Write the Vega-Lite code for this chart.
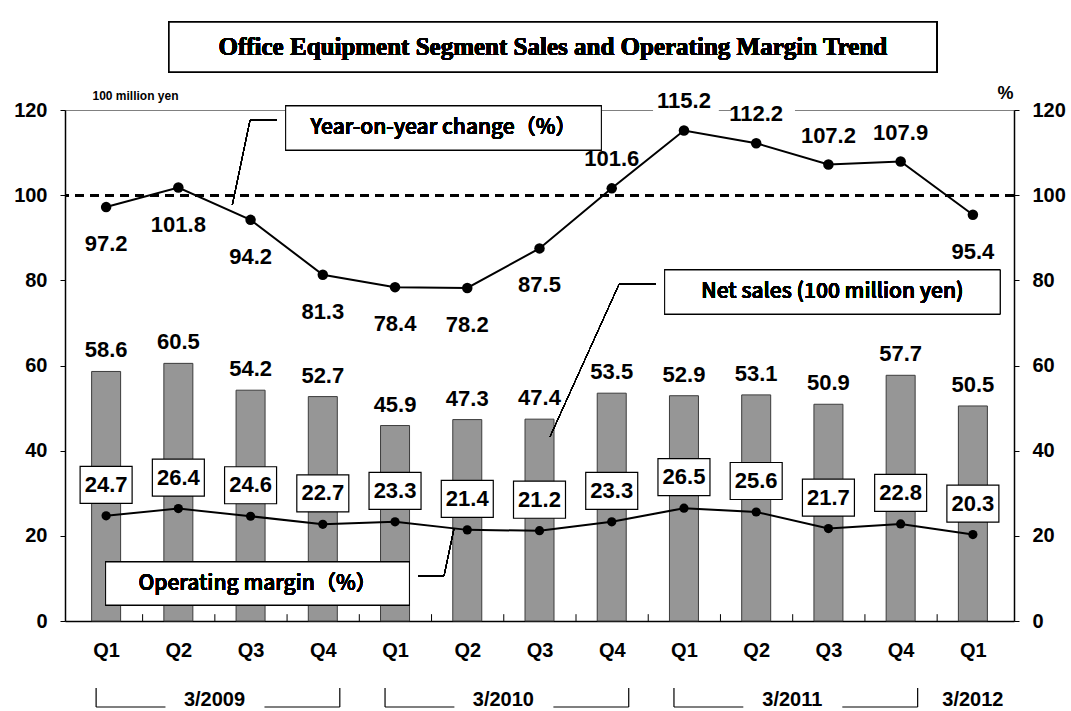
{
  "$schema": "https://vega.github.io/schema/vega-lite/v6.json",
  "width": 949,
  "height": 511,
  "autosize": {"type": "none"},
  "padding": {"left": 65, "top": 110, "right": 57, "bottom": 90},
  "background": "white",
  "config": {"view": {"stroke": "#808080", "strokeWidth": 1}, "font": "Liberation Sans"},
  "datasets": {
    "q": [
      {"i": 1, "fy": "3/2009", "sales": 58.6, "yoy": 97.2, "margin": 24.7},
      {"i": 2, "fy": "3/2009", "sales": 60.5, "yoy": 101.8, "margin": 26.4},
      {"i": 3, "fy": "3/2009", "sales": 54.2, "yoy": 94.2, "margin": 24.6},
      {"i": 4, "fy": "3/2009", "sales": 52.7, "yoy": 81.3, "margin": 22.7},
      {"i": 5, "fy": "3/2010", "sales": 45.9, "yoy": 78.4, "margin": 23.3},
      {"i": 6, "fy": "3/2010", "sales": 47.3, "yoy": 78.2, "margin": 21.4},
      {"i": 7, "fy": "3/2010", "sales": 47.4, "yoy": 87.5, "margin": 21.2},
      {"i": 8, "fy": "3/2010", "sales": 53.5, "yoy": 101.6, "margin": 23.3},
      {"i": 9, "fy": "3/2011", "sales": 52.9, "yoy": 115.2, "margin": 26.5},
      {"i": 10, "fy": "3/2011", "sales": 53.1, "yoy": 112.2, "margin": 25.6},
      {"i": 11, "fy": "3/2011", "sales": 50.9, "yoy": 107.2, "margin": 21.7},
      {"i": 12, "fy": "3/2011", "sales": 57.7, "yoy": 107.9, "margin": 22.8},
      {"i": 13, "fy": "3/2012", "sales": 50.5, "yoy": 95.4, "margin": 20.3}
    ]
  },
  "data": {"name": "q"},
  "resolve": {"axis": {"y": "independent"}},
  "layer": [
    {
      "mark": {"type": "bar", "size": 29, "fill": "#969696", "stroke": "#3c3c3c", "strokeWidth": 1},
      "encoding": {
        "x": {
          "field": "i", "type": "quantitative",
          "scale": {"domain": [0.5, 13.5], "nice": false, "zero": false},
          "axis": {
            "title": null, "orient": "bottom", "values": [1,2,3,4,5,6,7,8,9,10,11,12,13],
            "labelExpr": "'Q' + ((datum.value - 1) % 4 + 1)",
            "ticks": false, "grid": false, "domainColor": "black", "domainWidth": 1.5,
            "labelFont": "Liberation Sans", "labelFontSize": 20, "labelFontWeight": "bold",
            "labelColor": "black", "labelPadding": 19, "labelFlush": false, "labelOverlap": false
          }
        },
        "y": {
          "field": "sales", "type": "quantitative",
          "scale": {"domain": [0, 120], "nice": false},
          "axis": {
            "orient": "left", "values": [0, 20, 40, 60, 80, 100, 120], "grid": false,
            "domainColor": "black", "domainWidth": 1.5, "tickColor": "black", "tickSize": 5,
            "labelPadding": 13, "labelFontSize": 20, "labelFontWeight": "bold", "labelColor": "black",
            "labelFlush": false, "labelOverlap": false,
            "title": "100 million yen", "titleAngle": 0, "titleX": 70, "titleY": -15,
            "titleAlign": "center", "titleBaseline": "middle", "titleFontSize": 12,
            "titleFontWeight": "bold", "titleColor": "black"
          }
        }
      }
    },
    {
      "mark": {"type": "text", "dy": -21, "baseline": "middle", "fontSize": 22, "fontWeight": "bold", "color": "black"},
      "encoding": {
        "x": {"field": "i", "type": "quantitative"},
        "y": {"field": "sales", "type": "quantitative", "axis": null},
        "text": {"field": "sales", "type": "quantitative", "format": ".1f"}
      }
    },
    {
      "mark": {"type": "rule", "strokeDash": [9, 6], "strokeWidth": 2, "color": "black"},
      "encoding": {"y": {"datum": 100, "type": "quantitative", "axis": null}}
    },
    {
      "mark": {"type": "rule", "color": "black", "strokeWidth": 1},
      "encoding": {
        "x": {"datum": 3.363, "type": "quantitative"}, "x2": {"datum": 2.993},
        "y": {"datum": 117.65, "type": "quantitative", "axis": null}, "y2": {"datum": 117.65}
      }
    },
    {
      "mark": {"type": "rule", "color": "black", "strokeWidth": 1},
      "encoding": {
        "x": {"datum": 2.993, "type": "quantitative"}, "x2": {"datum": 2.747},
        "y": {"datum": 117.65, "type": "quantitative", "axis": null}, "y2": {"datum": 97.69}
      }
    },
    {
      "mark": {"type": "rule", "color": "black", "strokeWidth": 1},
      "encoding": {
        "x": {"datum": 8.61, "type": "quantitative"}, "x2": {"datum": 8.103},
        "y": {"datum": 79.14, "type": "quantitative", "axis": null}, "y2": {"datum": 79.14}
      }
    },
    {
      "mark": {"type": "rule", "color": "black", "strokeWidth": 1},
      "encoding": {
        "x": {"datum": 8.103, "type": "quantitative"}, "x2": {"datum": 7.144},
        "y": {"datum": 79.14, "type": "quantitative", "axis": null}, "y2": {"datum": 43.21}
      }
    },
    {
      "mark": {"type": "rule", "color": "black", "strokeWidth": 1},
      "encoding": {
        "x": {"datum": 5.322, "type": "quantitative"}, "x2": {"datum": 5.678},
        "y": {"datum": 10.567, "type": "quantitative", "axis": null}, "y2": {"datum": 10.567}
      }
    },
    {
      "mark": {"type": "rule", "color": "black", "strokeWidth": 1},
      "encoding": {
        "x": {"datum": 5.678, "type": "quantitative"}, "x2": {"datum": 5.815},
        "y": {"datum": 10.567, "type": "quantitative", "axis": null}, "y2": {"datum": 21.6}
      }
    },
    {
      "mark": {"type": "rect", "fill": "white", "stroke": null},
      "encoding": {
        "x": {"datum": 8.582, "type": "quantitative"}, "x2": {"datum": 9.473},
        "y": {"datum": 119.0, "type": "quantitative", "axis": null}, "y2": {"datum": 121.5}
      }
    },
    {
      "mark": {"type": "rect", "fill": "white", "stroke": null},
      "encoding": {
        "x": {"datum": 9.651, "type": "quantitative"}, "x2": {"datum": 10.527},
        "y": {"datum": 119.0, "type": "quantitative", "axis": null}, "y2": {"datum": 121.5}
      }
    },
    {
      "mark": {"type": "line", "color": "black", "strokeWidth": 2, "point": {"filled": true, "size": 110, "color": "black"}},
      "encoding": {
        "x": {"field": "i", "type": "quantitative"},
        "y": {
          "field": "yoy", "type": "quantitative",
          "axis": {
            "orient": "right", "values": [0, 20, 40, 60, 80, 100, 120], "grid": false,
            "domainColor": "black", "domainWidth": 1.5, "tickColor": "black", "tickSize": 5,
            "labelPadding": 13, "labelFontSize": 20, "labelFontWeight": "bold", "labelColor": "black",
            "labelFlush": false, "labelOverlap": false,
            "title": "%", "titleAngle": 0, "titleX": -9, "titleY": -17,
            "titleAlign": "center", "titleBaseline": "middle", "titleFontSize": 18,
            "titleFontWeight": "bold", "titleColor": "black"
          }
        }
      }
    },
    {
      "transform": [{"filter": "datum.i <= 7 || datum.i == 13"}],
      "mark": {"type": "text", "dy": 37, "baseline": "middle", "fontSize": 22, "fontWeight": "bold", "color": "black"},
      "encoding": {
        "x": {"field": "i", "type": "quantitative"},
        "y": {"field": "yoy", "type": "quantitative", "axis": null},
        "text": {"field": "yoy", "type": "quantitative", "format": ".1f"}
      }
    },
    {
      "transform": [{"filter": "datum.i >= 8 && datum.i <= 12"}],
      "mark": {"type": "text", "dy": -29, "baseline": "middle", "fontSize": 22, "fontWeight": "bold", "color": "black"},
      "encoding": {
        "x": {"field": "i", "type": "quantitative"},
        "y": {"field": "yoy", "type": "quantitative", "axis": null},
        "text": {"field": "yoy", "type": "quantitative", "format": ".1f"}
      }
    },
    {
      "mark": {"type": "line", "color": "black", "strokeWidth": 2, "point": {"filled": true, "size": 85, "color": "black"}},
      "encoding": {
        "x": {"field": "i", "type": "quantitative"},
        "y": {"field": "margin", "type": "quantitative", "axis": null}
      }
    },
    {
      "mark": {
        "type": "point", "shape": "M-1,-1.904L1,-1.904L1,-0.48L-1,-0.48Z", "size": 2704,
        "filled": true, "fill": "white", "stroke": "black", "strokeWidth": 1.2, "opacity": 1, "fillOpacity": 1
      },
      "encoding": {
        "x": {"field": "i", "type": "quantitative"},
        "y": {"field": "margin", "type": "quantitative", "axis": null}
      }
    },
    {
      "mark": {"type": "text", "dy": -31, "baseline": "middle", "fontSize": 22, "fontWeight": "bold", "color": "black"},
      "encoding": {
        "x": {"field": "i", "type": "quantitative"},
        "y": {"field": "margin", "type": "quantitative", "axis": null},
        "text": {"field": "margin", "type": "quantitative", "format": ".1f"}
      }
    },
    {
      "transform": [{"filter": "datum.i <= 12"}],
      "mark": {"type": "rule", "color": "black", "strokeWidth": 1, "xOffset": 36.5},
      "encoding": {
        "x": {"field": "i", "type": "quantitative"},
        "y": {"datum": 0, "type": "quantitative", "axis": null}, "y2": {"datum": 1.6}
      }
    },
    {
      "transform": [
        {"filter": "datum.fy != '3/2012'"},
        {"aggregate": [{"op": "min", "field": "i", "as": "i0"}, {"op": "max", "field": "i", "as": "i1"}, {"op": "mean", "field": "i", "as": "ic"}], "groupby": ["fy"]}
      ],
      "layer": [
        {
          "mark": {"type": "rule", "color": "black", "strokeWidth": 1.2, "xOffset": -10},
          "encoding": {
            "x": {"field": "i0", "type": "quantitative"},
            "y": {"datum": -15.73, "type": "quantitative", "axis": null}, "y2": {"datum": -20.2}
          }
        },
        {
          "mark": {"type": "rule", "color": "black", "strokeWidth": 1.2, "xOffset": 17},
          "encoding": {
            "x": {"field": "i1", "type": "quantitative"},
            "y": {"datum": -15.73, "type": "quantitative", "axis": null}, "y2": {"datum": -20.2}
          }
        },
        {
          "mark": {"type": "rule", "color": "black", "strokeWidth": 1.2, "xOffset": -10, "x2Offset": -49},
          "encoding": {
            "x": {"field": "i0", "type": "quantitative"}, "x2": {"field": "ic"},
            "y": {"datum": -20.2, "type": "quantitative", "axis": null}
          }
        },
        {
          "mark": {"type": "rule", "color": "black", "strokeWidth": 1.2, "xOffset": 50, "x2Offset": 17},
          "encoding": {
            "x": {"field": "ic", "type": "quantitative"}, "x2": {"field": "i1"},
            "y": {"datum": -20.2, "type": "quantitative", "axis": null}
          }
        }
      ]
    },
    {
      "transform": [{"aggregate": [{"op": "mean", "field": "i", "as": "ic"}], "groupby": ["fy"]}],
      "mark": {"type": "text", "baseline": "middle", "fontSize": 20, "fontWeight": "bold", "color": "black"},
      "encoding": {
        "x": {"field": "ic", "type": "quantitative"},
        "y": {"datum": -18.55, "type": "quantitative", "axis": null},
        "text": {"field": "fy", "type": "nominal"}
      }
    },
    {
      "mark": {"type": "rect", "fill": "white", "stroke": "black", "strokeWidth": 1.5},
      "encoding": {
        "x": {"datum": 1.87, "type": "quantitative"}, "x2": {"datum": 12.5},
        "y": {"datum": 140.66, "type": "quantitative", "axis": null}, "y2": {"datum": 128.92}
      }
    },
    {
      "mark": {"type": "text", "baseline": "middle", "align": "center", "font": "Liberation Serif", "fontSize": 25, "fontWeight": "bold", "color": "black"},
      "encoding": {
        "x": {"datum": 7.185, "type": "quantitative"},
        "y": {"datum": 134.79, "type": "quantitative", "axis": null},
        "text": {"value": "Office Equipment Segment Sales and Operating Margin Trend"}
      }
    },
    {
      "mark": {"type": "rect", "fill": "white", "stroke": "black", "strokeWidth": 1},
      "encoding": {
        "x": {"datum": 3.486, "type": "quantitative"}, "x2": {"datum": 7.856},
        "y": {"datum": 120.94, "type": "quantitative", "axis": null}, "y2": {"datum": 110.6}
      }
    },
    {
      "mark": {"type": "text", "baseline": "middle", "align": "center", "font": "Noto Sans CJK JP", "fontSize": 21, "fontWeight": 500, "color": "black"},
      "encoding": {
        "x": {"datum": 5.671, "type": "quantitative"},
        "y": {"datum": 115.77, "type": "quantitative", "axis": null},
        "text": {"value": "Year-on-year change（%）"}
      }
    },
    {
      "mark": {"type": "rect", "fill": "white", "stroke": "black", "strokeWidth": 1},
      "encoding": {
        "x": {"datum": 8.733, "type": "quantitative"}, "x2": {"datum": 13.377},
        "y": {"datum": 82.43, "type": "quantitative", "axis": null}, "y2": {"datum": 72.09}
      }
    },
    {
      "mark": {"type": "text", "baseline": "middle", "align": "center", "font": "Noto Sans CJK JP", "fontSize": 21, "fontWeight": 500, "color": "black"},
      "encoding": {
        "x": {"datum": 11.055, "type": "quantitative"},
        "y": {"datum": 77.26, "type": "quantitative", "axis": null},
        "text": {"value": "Net sales (100 million yen)"}
      }
    },
    {
      "mark": {"type": "rect", "fill": "white", "stroke": "black", "strokeWidth": 1},
      "encoding": {
        "x": {"datum": 0.993, "type": "quantitative"}, "x2": {"datum": 5.199},
        "y": {"datum": 13.855, "type": "quantitative", "axis": null}, "y2": {"datum": 3.757}
      }
    },
    {
      "mark": {"type": "text", "baseline": "middle", "align": "center", "font": "Noto Sans CJK JP", "fontSize": 21, "fontWeight": 500, "color": "black"},
      "encoding": {
        "x": {"datum": 3.096, "type": "quantitative"},
        "y": {"datum": 8.806, "type": "quantitative", "axis": null},
        "text": {"value": "Operating margin（%）"}
      }
    }
  ]
}
